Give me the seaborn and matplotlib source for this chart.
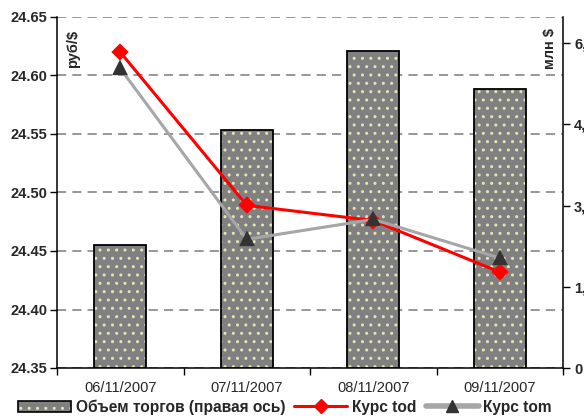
import matplotlib
matplotlib.use("Agg")
import matplotlib.pyplot as plt
from matplotlib.patches import Patch
from matplotlib.lines import Line2D
from matplotlib.legend_handler import HandlerTuple
from matplotlib.ticker import FuncFormatter, FixedLocator
import seaborn as sns
import pandas as pd

# Trading days
dates = ["06/11/2007", "07/11/2007", "08/11/2007", "09/11/2007"]
# Trading volume, mln $ (right axis)
volume = [2270, 4390, 5860, 5150]
# USD/RUB rate, "tod" and "tom" settlement
rate_tod = [24.620, 24.489, 24.476, 24.432]
rate_tom = [24.606, 24.460, 24.477, 24.444]

left_ticks = [24.35, 24.40, 24.45, 24.50, 24.55, 24.60, 24.65]
right_ticks = [0, 1500, 3000, 4500, 6000]

df = pd.DataFrame({"date": dates, "volume": volume,
                   "tod": rate_tod, "tom": rate_tom})

sns.set_style("white")
plt.rcParams["font.family"] = ["Liberation Sans", "DejaVu Sans"]

BAR_FACE = "#808080"
DOT = "#e4e4b4"
RED = "#ff0000"
TOM_LINE = "#a6a6a6"
TOM_MARK = "#333333"
HATCH = ".."

fig = plt.figure(figsize=(5.84, 4.16), dpi=100)
ax = fig.add_axes([57 / 584, 1 - 368 / 416, 506 / 584, 351 / 416])

# left axis: exchange rate scale + dashed grid
ax.set_ylim(24.35, 24.65)
ax.yaxis.set_major_locator(FixedLocator(left_ticks))
ax.yaxis.set_major_formatter(FuncFormatter(lambda v, p: f"{v:.2f}"))
ax.grid(axis="y", color="#7a7a7a", linestyle=(0, (6, 4)), linewidth=1.1)
ax.grid(axis="x", visible=False)
for t in ax.get_yticklabels():
    t.set_fontweight("bold")
ax.tick_params(axis="y", which="major", length=5, width=1, color="black",
               labelsize=10.5, pad=2, left=True)

# bars on the secondary (right) axis
axb = ax.twinx()
sns.barplot(data=df, x="date", y="volume", ax=axb, color=BAR_FACE,
            saturation=1, width=0.41, edgecolor=DOT, linewidth=0,
            hatch=HATCH)
sns.barplot(data=df, x="date", y="volume", ax=axb, color="black",
            fill=False, width=0.41, linewidth=1.3)
axb.set_ylim(0, 6480)
axb.yaxis.set_major_locator(FixedLocator(right_ticks))
axb.yaxis.set_major_formatter(FuncFormatter(lambda v, p: f"{v:,.0f}"))
axb.set_ylabel("")
axb.set_xlabel("")
axb.tick_params(axis="y", length=5, width=1, color="black", labelsize=10.5,
                pad=3, right=True)
for t in axb.get_yticklabels():
    t.set_fontweight("bold")

# rate lines above the bars
axl = ax.twinx()
axl.set_ylim(24.35, 24.65)
sns.pointplot(data=df, x="date", y="tod", ax=axl, color=RED, marker="D",
              markersize=7, linewidth=2.2, errorbar=None)
sns.pointplot(data=df, x="date", y="tom", ax=axl, color=TOM_LINE, marker="^",
              markersize=9, linewidth=2.2, errorbar=None)
tom_line = axl.lines[-1]
tom_line.set_markerfacecolor(TOM_MARK)
tom_line.set_markeredgecolor(TOM_MARK)
for ln in axl.lines:
    ln.set_clip_on(False)
axl.set_ylim(24.35, 24.65)
axl.axis("off")

# category axis: labels at centres, ticks on the boundaries
for a in (ax, axb, axl):
    a.set_xlim(-0.5, 3.5)
ax.set_xticks(range(len(dates)))
ax.set_xticklabels(dates, fontsize=10.5)
ax.xaxis.set_minor_locator(FixedLocator([-0.5, 0.5, 1.5, 2.5, 3.5]))
ax.tick_params(axis="x", which="major", length=0, pad=9)
ax.tick_params(axis="x", which="minor", length=5, width=1, color="black",
               bottom=True)
axb.tick_params(axis="x", length=0, labelbottom=False)
ax.set_xlabel("")
ax.set_ylabel("")

for a in (ax, axb):
    for s in a.spines.values():
        s.set_visible(False)
for side in ("left", "bottom"):
    ax.spines[side].set_visible(True)
    ax.spines[side].set_color("black")
    ax.spines[side].set_linewidth(1.1)
axb.spines["right"].set_visible(True)
axb.spines["right"].set_color("black")
axb.spines["right"].set_linewidth(1.1)

# axis unit captions inside the plot
ax.text(0.032, 0.91, "руб/$", transform=ax.transAxes, rotation=90,
        ha="center", va="center", fontsize=10.5, fontweight="bold")
ax.text(0.974, 0.91, "млн $", transform=ax.transAxes, rotation=90,
        ha="center", va="center", fontsize=10.5, fontweight="bold")

# legend
bar_fill = Patch(facecolor=BAR_FACE, edgecolor=DOT, hatch=HATCH, linewidth=0)
bar_edge = Patch(facecolor="none", edgecolor="black", linewidth=1.2)
h_tod = Line2D([], [], color=RED, linewidth=2.2, marker="D", markersize=7)
h_tom = Line2D([], [], color=TOM_LINE, linewidth=4, marker="^",
               markersize=9, markerfacecolor=TOM_MARK,
               markeredgecolor=TOM_MARK)
fig.legend([(bar_fill, bar_edge), h_tod, h_tom],
           ["Объем торгов (правая ось)", "Курс tod", "Курс tom"],
           handler_map={tuple: HandlerTuple(ndivide=1, pad=0)},
           loc="center", bbox_to_anchor=(0.488, 0.022), ncol=3,
           frameon=False, handlelength=3.4, handletextpad=0.3,
           columnspacing=0.6, prop={"weight": "bold", "size": 11.2},
           borderaxespad=0, borderpad=0)

fig.savefig("out.png", dpi=100)
